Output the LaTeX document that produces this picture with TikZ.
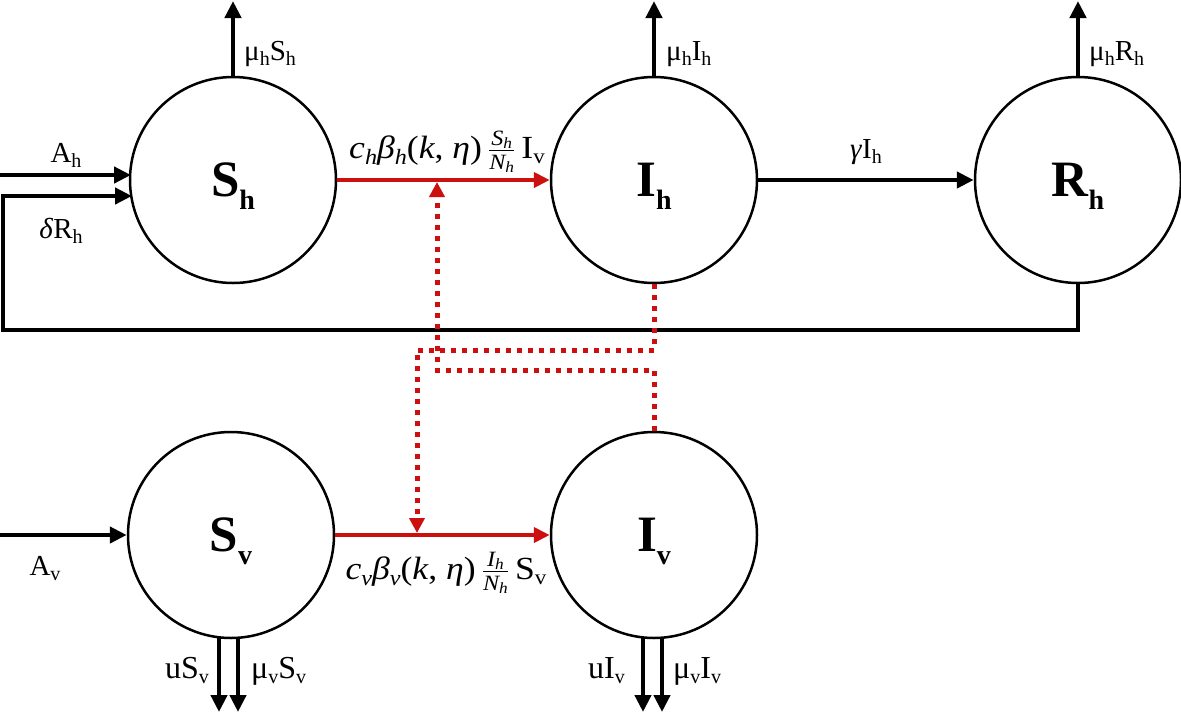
\RequirePackage{fix-cm}
\documentclass[tikz,border=0pt]{standalone}
\usepackage{graphicx}
\usepackage{fontspec}
\setmainfont{Liberation Serif}
\usetikzlibrary{arrows.meta}
\definecolor{myred}{RGB}{204,16,16}
\newcommand\nsub[1]{\smash{\raisebox{-13pt}{\fontsize{28}{28}\selectfont #1}}}
\newcommand\lsub[1]{\raisebox{-5pt}{\fontsize{20}{20}\selectfont #1}}
\newcommand\mi[1]{\textit{#1}}
\newcommand\msub[1]{\raisebox{-6pt}{\fontsize{21}{21}\selectfont\itshape #1}}
\newcommand\fsub[1]{\raisebox{-3pt}{\fontsize{15}{15}\selectfont\itshape #1}}
\newcommand\ffrac[2]{$\frac{\mbox{\fontsize{21}{21}\selectfont\itshape #1}}{\mbox{\fontsize{21}{21}\selectfont\itshape #2}}$}
\newcommand\wide[1]{\scalebox{1.15}[1.04]{#1}}
\tikzset{
  comp/.style={circle,draw,line width=2.5pt,minimum size=206pt,inner sep=0pt,font=\fontsize{51}{56}\selectfont\bfseries},
  lbl/.style={inner sep=0pt,font=\fontsize{29}{34}\selectfont},
  lblb/.style={inner sep=0pt,font=\fontsize{32}{36}\selectfont},
  mlbl/.style={inner sep=0pt,font=\fontsize{31}{36}\selectfont},
  blk/.style={line width=4.5pt,-{Triangle[length=17pt,width=16pt]}},
  rflow/.style={myred,line width=4.5pt,-{Triangle[length=16pt,width=15pt]}},
  rdot/.style={myred,line width=5pt,dash pattern=on 5pt off 6pt,-{Triangle[length=15pt,width=15pt]}},
}
\begin{document}
\begin{tikzpicture}[x=1pt,y=-1pt]
\useasboundingbox (0,0) rectangle (1181,713);
\node[comp] (Sh) at (233,180) {S\nsub{h}};
\node[comp] (Ih) at (654,180) {I\nsub{h}};
\node[comp] (Rh) at (1078,180) {R\nsub{h}};
\node[comp] (Sv) at (231,535) {S\nsub{v}};
\node[comp] (Iv) at (654,535) {I\nsub{v}};
% outflows top
\coordinate (ShO) at (233,1);
\coordinate (IhO) at (654,1);
\coordinate (RhO) at (1078,1);
\draw[blk] (Sh.north) -- (ShO);
\draw[blk] (Ih.north) -- (IhO);
\draw[blk] (Rh.north) -- (RhO);
\node[lbl,anchor=base west] (lShO) at (244,60) {μ\lsub{h}S\lsub{h}};
\node[lbl,anchor=base west] (lIhO) at (666,60) {μ\lsub{h}I\lsub{h}};
\node[lbl,anchor=base west] (lRhO) at (1089,60) {μ\lsub{h}R\lsub{h}};
% inflows
\coordinate (AhI) at (0,175);
\draw[blk] (AhI) -- (131,175);
\node[lbl,anchor=base] (lAh) at (66,162) {A\lsub{h}};
\coordinate (fbA) at (3,330);
\coordinate (fbB) at (3,196);
\draw[blk,line join=miter] (Rh.south) |- (fbA) -- (fbB) -- (132,196);
\node[lbl,anchor=base] (lRh) at (61,238) {\mi{δ}R\lsub{h}};
\coordinate (AvI) at (0,535);
\draw[blk] (AvI) -- (Sv.west);
\node[lbl,anchor=base] (lAv) at (45,575) {A\lsub{v}};
% Ih -> Rh
\draw[blk] (Ih.east) -- (Rh.west);
\node[lbl,anchor=base] (lg) at (866,158) {\mi{γ}I\lsub{h}};
% red flows
\draw[rflow] (Sh.east) -- (Ih.west);
\draw[rflow] (Sv.east) -- (Iv.west);
\node[mlbl,anchor=base] (lh) at (447,158) {\wide{\mi{c}\msub{h}\mi{β}\msub{h}(\mi{k}, \mi{η})\,\ffrac{S\fsub{h}}{N\fsub{h}}\,I\lsub{v}}};
\node[mlbl,anchor=base] (lv) at (446,579) {\wide{\mi{c}\msub{v}\mi{β}\msub{v}(\mi{k}, \mi{η})\,\ffrac{I\fsub{h}}{N\fsub{h}}\,S\lsub{v}}};
% dotted
\coordinate (J1) at (437,182);
\coordinate (J2) at (417,533);
\coordinate (d1) at (437,370);
\coordinate (d2) at (417,350);
\draw[rdot] (Iv.north) |- (d1) -- (J1);
\draw[rdot] (Ih.south) |- (d2) -- (J2);
% outflows bottom
\coordinate (SvO1) at (219,712);
\coordinate (SvO2) at (238,712);
\coordinate (IvO1) at (643,712);
\coordinate (IvO2) at (662,712);
\draw[blk] (219,637) -- (SvO1);
\draw[blk] (238,637) -- (SvO2);
\draw[blk] (643,637) -- (IvO1);
\draw[blk] (662,637) -- (IvO2);
\node[lblb,anchor=base east] (luS) at (209,678) {uS\lsub{v}};
\node[lblb,anchor=base west] (lmS) at (251,678) {μ\lsub{v}S\lsub{v}};
\node[lblb,anchor=base east] (luI) at (625,678) {uI\lsub{v}};
\node[lblb,anchor=base west] (lmI) at (673,678) {μ\lsub{v}I\lsub{v}};
\end{tikzpicture}
\end{document}
